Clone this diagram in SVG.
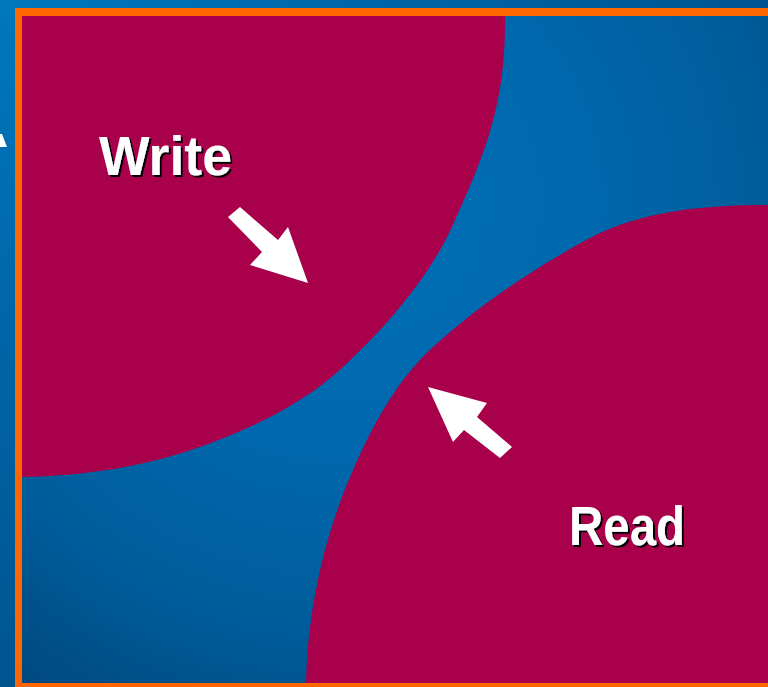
<svg xmlns="http://www.w3.org/2000/svg" width="768" height="687" viewBox="0 0 768 687">
  <style>
    .blob { fill: #a8004a; }
    .label { font-family: "Liberation Sans", Arial, sans-serif; font-weight: bold; font-size: 56px; fill: #ffffff; filter: url(#shadow); }
    .arrow { fill: #ffffff; }
  </style>
  <defs>
    <linearGradient id="outerBg" x1="0" y1="0" x2="1" y2="1">
      <stop offset="0" stop-color="#0077be"/>
      <stop offset="0.5" stop-color="#005490"/>
      <stop offset="1" stop-color="#003a6c"/>
    </linearGradient>
    <radialGradient id="innerBg" gradientUnits="userSpaceOnUse" cx="340" cy="200" r="620">
      <stop offset="0" stop-color="#0070b6"/>
      <stop offset="0.4" stop-color="#0068ad"/>
      <stop offset="0.7" stop-color="#005c9a"/>
      <stop offset="0.85" stop-color="#004f88"/>
      <stop offset="1" stop-color="#00447a"/>
    </radialGradient>
    <filter id="shadow" x="-10%" y="-20%" width="130%" height="150%">
      <feOffset in="SourceAlpha" dx="2" dy="2" result="off"/>
      <feFlood flood-color="#000000"/>
      <feComposite in2="off" operator="in" result="sh"/>
      <feMerge>
        <feMergeNode in="sh"/>
        <feMergeNode in="SourceGraphic"/>
      </feMerge>
    </filter>
    <clipPath id="frameClip">
      <rect x="22" y="16" width="746" height="667"/>
    </clipPath>
  </defs>

  <!-- background and frame -->
  <rect x="0" y="0" width="768" height="687" fill="url(#outerBg)"/>
  <polygon points="0,134 2,134 7,147 0,147" fill="#ffffff"/>
  <rect x="15" y="8" width="760" height="690" fill="#ff6600"/>
  <rect x="22" y="16" width="760" height="667" fill="url(#innerBg)"/>

  <g clip-path="url(#frameClip)">
    <g id="node-write">
      <path class="blob" d="M10,10 L505,10 L505,16 C506,100 487,150 455,220 C431.6,275 386.8,326.2 343,367 C303,404.4 251.7,428.3 200,447 C144,467 82,476 22,477 L10,477 Z"/>
    </g>
    <g id="node-read">
      <path class="blob" d="M780,205 L768,205 C710,205 642.8,209.8 590,238 C534.6,267.6 479.6,304.8 433,347 C395.3,381.2 369.9,430.1 350,477 C322.7,541.4 307.4,613 306,683 L306,700 L780,700 Z"/>
    </g>
  </g>

  <g id="label-write">
    <text class="label" x="99" y="175" textLength="133" lengthAdjust="spacingAndGlyphs">Write</text>
  </g>
  <g id="label-read">
    <text class="label" x="569" y="545" textLength="116" lengthAdjust="spacingAndGlyphs">Read</text>
  </g>

  <g id="connectors">
    <polygon class="arrow" points="228,217 240,207 278,240 288,227 308,283 250,265 262,252"/>
    <polygon class="arrow" points="428,387 487,403 477,417 512,447 500,458 464,430 453,442"/>
  </g>
</svg>
